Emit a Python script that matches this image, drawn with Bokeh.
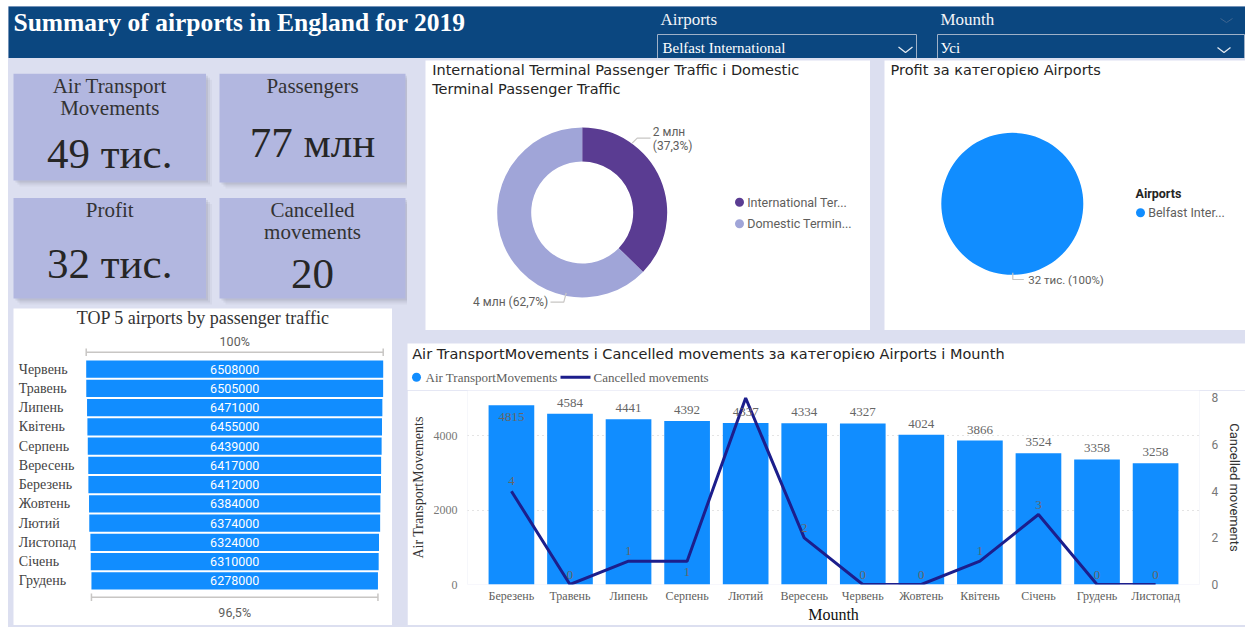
import math
from bokeh.plotting import figure
from bokeh.models import Range1d, FactorRange, LinearAxis, FixedTicker, Spacer, ColumnDataSource
from bokeh.layouts import row, column
from bokeh.core.properties import value
from bokeh.embed import file_html
from bokeh.resources import INLINE

# ---------------- data ----------------
dashboard_title = "Summary of airports in England for 2019"
filter_labels = ["Airports", "Mounth"]
filter_values = ["Belfast International", "Усі"]

months = ["Березень", "Травень", "Липень", "Серпень", "Лютий", "Вересень",
          "Червень", "Жовтень", "Квітень", "Січень", "Грудень", "Листопад"]
atm = [4815, 4584, 4441, 4392, 4337, 4334, 4327, 4024, 3866, 3524, 3358, 3258]
cancelled = [4, 0, 1, 1, 8, 2, 0, 0, 1, 3, 0, 0]

funnel_months = ["Червень", "Травень", "Липень", "Квітень", "Серпень", "Вересень",
                 "Березень", "Жовтень", "Лютий", "Листопад", "Січень", "Грудень"]
funnel_passengers = [6508000, 6505000, 6471000, 6455000, 6439000, 6417000,
                     6412000, 6384000, 6374000, 6324000, 6310000, 6278000]

terminal_names = ["International Ter...", "Domestic Termin..."]
terminal_values = [2310000, 3880000]

profit_airports = ["Belfast Inter..."]
profit_values = [32000]

# ---------------- style ----------------
SERIF = "Liberation Serif"
SANS = "Roboto"
TSANS = "DejaVu Sans"
HEADER_BG = "#0b4780"
LAV = "#dcdff0"
CARD = "#b2b7e0"
BLUE = "#118dff"
PURPLE = "#5a3c92"
LILAC = "#a0a5d8"
NAVY = "#1c1e8c"
TITLE_C = "#252423"
GRAY = "#605e5c"


def base(w, h, xr, yr, bg="white"):
    p = figure(width=w, height=h, x_range=xr, y_range=yr, output_backend="svg",
               toolbar_location=None, min_border=0, x_axis_location=None,
               y_axis_location=None, background_fill_color=bg, border_fill_color=bg,
               outline_line_color=None)
    p.grid.visible = False
    return p


def txt(p, x, y, s, size, color, font=SERIF, align="left", style="normal"):
    p.text(x=[x], y=[y], text=[s], text_font=value(font), text_font_size=f"{size}px",
           text_color=color, text_align=align, text_baseline="middle",
           text_font_style=style)


def pct_str(f):
    s = f"{f * 100:.1f}"
    if s.endswith(".0"):
        s = s[:-2]
    return s.replace(".", ",") + "%"


# ---------------- header (ref x 8-1245, y 6-58) ----------------
HW, HH = 1237, 52
hdr = base(HW, HH, Range1d(0, HW), Range1d(HH, 0), HEADER_BG)
txt(hdr, 5, 15.5, dashboard_title, 25.5, "white", style="bold")
box_l = [649, 929]
box_r = [908, 1236]
lab_x = [652, 932]
val_x = [654, 932]
for i in range(2):
    txt(hdr, lab_x[i], 12.5, filter_labels[i], 17, "#f2f4f8")
    txt(hdr, val_x[i], 41, filter_values[i], 15, "white")
hdr.quad(left=box_l, right=box_r, top=[28, 28], bottom=[54, 54], fill_color=None,
         line_color="#9fb1c8", line_width=1)
hdr.multi_line(xs=[[890, 897, 904], [1209, 1215.5, 1222]], ys=[[40.5, 46, 40.5], [41, 46, 41]],
               line_color="#e4e9f0", line_width=1.3)
hdr.line(x=[1212, 1218, 1224], y=[12, 16, 12], line_color="#3f6590", line_width=1)

# ---------------- KPI cards (ref x 8-407, y 58-308) ----------------
CW, CH = 399, 250
cards = base(CW, CH, Range1d(0, CW), Range1d(CH, 0), LAV)
card_l = [5, 211, 5, 211]
card_r = [197.5, 397, 197.5, 397]
card_t = [15.3, 15.3, 139.5, 139.5]
card_b = [122, 124, 240, 240]
for o, a in [(2, 0.10), (4, 0.08), (6, 0.05)]:
    cards.quad(left=[v + o for v in card_l], right=[v + o for v in card_r],
               top=[v + o for v in card_t], bottom=[v + o for v in card_b],
               fill_color="#4a4e66", fill_alpha=a, line_color=None)
cards.quad(left=card_l, right=card_r, top=card_t, bottom=card_b, fill_color=CARD,
           line_color=None)

kpi_titles = [["Air Transport", "Movements"], ["Passengers"], ["Profit"],
              ["Cancelled", "movements"]]
kpi_values = [f"{round(sum(atm) / 1000)} тис.",
              f"{round(sum(funnel_passengers) / 1e6)} млн",
              f"{round(sum(profit_values) / 1000)} тис.",
              f"{sum(cancelled)}"]
title_mid = [[27.7, 49.3], [27.7], [151], [151, 173.5]]
value_mid = [95, 83.5, 205, 215]
for i in range(4):
    cxx = (card_l[i] + card_r[i]) / 2
    for line, ym in zip(kpi_titles[i], title_mid[i]):
        txt(cards, cxx, ym, line, 21, "#333333", align="center")
    txt(cards, cxx, value_mid[i], kpi_values[i], 43, "#262626", align="center")

# ---------------- funnel (ref x 13-392, y 308-625) ----------------
FW, FH = 379, 317
FUN_MAX_PX = 297.0
fcx = 221.2
row0, pitch = 60.65, 19.25
k = FUN_MAX_PX / max(funnel_passengers)
xl = lambda px: (px - fcx) / k
yl = lambda py: (py - row0) / pitch
fun = base(FW, FH, Range1d(xl(0), xl(FW)), Range1d(yl(FH), yl(0)), "white")
fsrc = ColumnDataSource(dict(
    y=list(range(len(funnel_passengers))),
    left=[-v / 2 for v in funnel_passengers],
    right=[v / 2 for v in funnel_passengers],
    label=[str(v) for v in funnel_passengers],
    month=funnel_months))
fun.hbar(y="y", left="left", right="right", height=0.9, source=fsrc,
         fill_color=BLUE, line_color=None)
fun.text(x=0, y="y", text="label", source=fsrc, text_font=value(SANS),
         text_font_size="12.5px", text_color="white", text_align="center",
         text_baseline="middle")
fun.text(x=xl(5.3), y="y", text="month", source=fsrc, text_font=value(SERIF),
         text_font_size="14px", text_color="#444444", text_align="left",
         text_baseline="middle")
txt(fun, xl(189.7), yl(9.3), "TOP 5 airports by passenger traffic", 18, "#333333",
    align="center")
mx, mn = max(funnel_passengers), min(funnel_passengers)
by_top, by_bot = yl(43.7), yl(288.7)
tick = 3.7 / pitch
fun.multi_line(
    xs=[[-mx / 2, mx / 2], [-mx / 2, -mx / 2], [mx / 2, mx / 2],
        [-mn / 2, mn / 2], [-mn / 2, -mn / 2], [mn / 2, mn / 2]],
    ys=[[by_top, by_top], [by_top - tick, by_top + tick], [by_top - tick, by_top + tick],
        [by_bot, by_bot], [by_bot - tick, by_bot + tick], [by_bot - tick, by_bot + tick]],
    line_color="#c8c6c4", line_width=1.5)
txt(fun, 0, yl(32.7), pct_str(1.0), 12.5, GRAY, font=SANS, align="center")
txt(fun, 0, yl(303.7), pct_str(mn / mx), 12.5, GRAY, font=SANS, align="center")

# ---------------- donut (ref x 425-870, y 60-330) ----------------
DW, DH = 445, 270
dcx, dcy = 156.7, 152
donut = base(DW, DH, Range1d(-dcx, DW - dcx), Range1d(dcy - DH, dcy), "white")
DP = lambda lx, ly: (lx - dcx, dcy - ly)
tot = sum(terminal_values)
fr = [v / tot for v in terminal_values]
cum = [sum(fr[:i]) for i in range(len(fr) + 1)]
dsrc = ColumnDataSource(dict(
    start=[math.pi / 2 - 2 * math.pi * cum[i] for i in range(len(fr))],
    end=[math.pi / 2 - 2 * math.pi * cum[i + 1] for i in range(len(fr))],
    color=[PURPLE, LILAC]))
donut.annular_wedge(x=0, y=0, inner_radius=51, outer_radius=85, start_angle="start",
                    end_angle="end", direction="clock", fill_color="color",
                    line_color=None, source=dsrc)
dlab = [f"{round(v / 1e6)} млн" for v in terminal_values]
dpct = [f"({pct_str(f)})" for f in fr]
txt(donut, *DP(6.7, 9.3), "International Terminal Passenger Traffic і Domestic", 14.5,
    TITLE_C, font=TSANS)
txt(donut, *DP(6.7, 28.3), "Terminal Passenger Traffic", 14.5, TITLE_C, font=TSANS)
txt(donut, *DP(227.3, 71.7), dlab[0], 12, GRAY, font=SANS)
txt(donut, *DP(227.3, 85.7), dpct[0], 12, GRAY, font=SANS)
txt(donut, *DP(122.7, 241.7), f"{dlab[1]} {dpct[1]}", 12, GRAY, font=SANS, align="right")
lead1 = [DP(206.7, 82.7), DP(211.7, 77.7), DP(225, 77.7)]
lead2 = [DP(125, 241.7), DP(138.3, 241.7), DP(140.7, 232.3)]
donut.multi_line(xs=[[p[0] for p in lead1], [p[0] for p in lead2]],
                 ys=[[p[1] for p in lead1], [p[1] for p in lead2]],
                 line_color="#c8c6c4", line_width=1.2)
for i, nm in enumerate(terminal_names):
    ly = 141.7 + 21.6 * i
    donut.scatter(x=[DP(314, ly)[0]], y=[DP(314, ly)[1]], size=9,
                  fill_color=dsrc.data["color"][i], line_color=None)
    txt(donut, *DP(321.7, ly), nm, 12.5, GRAY, font=SANS)

# ---------------- pie (ref x 884-1245, y 60-330) ----------------
PW, PH = 361, 270
pcx, pcy = 127.8, 143.3
pie = base(PW, PH, Range1d(-pcx, PW - pcx), Range1d(pcy - PH, pcy), "white")
PP = lambda lx, ly: (lx - pcx, pcy - ly)
ptot = sum(profit_values)
pfr = [v / ptot for v in profit_values]
pcum = [sum(pfr[:i]) for i in range(len(pfr) + 1)]
span = lambda a: min(a, 2 * math.pi - 1e-4)
pie.wedge(x=0, y=0, radius=71,
          start_angle=[math.pi / 2 - span(2 * math.pi * pcum[i]) for i in range(len(pfr))],
          end_angle=[math.pi / 2 - span(2 * math.pi * pcum[i + 1]) for i in range(len(pfr))],
          direction="clock", fill_color=BLUE, line_color=None)
txt(pie, *PP(6, 9.3), "Profit за категорією Airports", 14.5, TITLE_C, font=TSANS)
txt(pie, *PP(143.7, 219), f"{round(profit_values[0] / 1000)} тис. ({pct_str(pfr[0])})", 11.5,
    GRAY, font=SANS)
pl = [PP(128.3, 212.3), PP(128.3, 219), PP(139.3, 219)]
pie.line(x=[p[0] for p in pl], y=[p[1] for p in pl], line_color="#c8c6c4", line_width=1.2)
txt(pie, *PP(251, 133.3), "Airports", 12.5, TITLE_C, font=SANS, style="bold")
pie.scatter(x=[PP(256, 152.3)[0]], y=[PP(256, 152.3)[1]], size=9, fill_color=BLUE,
            line_color=None)
txt(pie, *PP(263.7, 152.3), profit_airports[0], 12.5, GRAY, font=SANS)

# ---------------- combo chart (ref x 407-1245, y 343-625) ----------------
CMW = 838
HEAD_H = 47
chead = base(CMW, HEAD_H, Range1d(0, CMW), Range1d(HEAD_H, 0), "white")
txt(chead, 4.7, 10.3,
    "Air TransportMovements і Cancelled movements за категорією Airports і Mounth",
    14.5, TITLE_C, font=TSANS)
chead.scatter(x=[9], y=[33.7], size=9, fill_color=BLUE, line_color=None)
txt(chead, 18, 33.7, "Air TransportMovements", 13, GRAY)
chead.line(x=[153, 183], y=[33.7, 33.7], line_color=NAVY, line_width=3)
txt(chead, 186, 33.7, "Cancelled movements", 13, GRAY)

CHART_H = 235
FRAME_H = 197
L_END, R_END = 5211, 8.32
chart = figure(width=CMW, height=CHART_H, output_backend="svg", toolbar_location=None,
               x_range=FactorRange(*months, range_padding=0.25,
                                   range_padding_units="absolute"),
               y_range=Range1d(0, L_END), min_border_left=60, min_border_right=44,
               min_border_top=0, min_border_bottom=CHART_H - FRAME_H,
               outline_line_color=None,
               background_fill_color="white", border_fill_color="white")
chart.extra_y_ranges = {"right": Range1d(0, R_END)}
chart.xgrid.visible = False
chart.ygrid.ticker = FixedTicker(ticks=[0, 2000, 4000])
chart.ygrid.grid_line_color = "#c8c8c8"
chart.ygrid.grid_line_dash = "1 4"

chart.vbar(x=months, top=atm, width=0.78, fill_color=BLUE, line_color=None)
chart.line(x=months, y=cancelled, y_range_name="right", line_color=NAVY, line_width=3)

px_left = FRAME_H / L_END
bar_yoff = [12 if (v * px_left + 18) > FRAME_H else -11 for v in atm]
chart.text(x=months, y=atm, text=[str(v) for v in atm], y_offset=bar_yoff,
           text_font=value(SERIF), text_font_size="13px", text_color="#666666",
           text_align="center", text_baseline="middle")
px_right = FRAME_H / R_END
lx, ly, lt, loff = [], [], [], []
for i, (m, c) in enumerate(zip(months, cancelled)):
    below = i > 0 and c == cancelled[i - 1] and c > 0
    if not below and (c * px_right + 16) > FRAME_H:
        continue
    lx.append(m)
    ly.append(c)
    lt.append(str(c))
    loff.append(11 if below else -10)
chart.text(x=lx, y=ly, text=lt, y_offset=loff, y_range_name="right",
           text_font=value(SERIF), text_font_size="13px", text_color="#666666",
           text_align="center", text_baseline="middle")

ya = chart.yaxis[0]
ya.ticker = FixedTicker(ticks=[0, 2000, 4000])
ya.axis_label = "Air TransportMovements"
ryax = LinearAxis(y_range_name="right", ticker=FixedTicker(ticks=[0, 2, 4, 6, 8]),
                  axis_label="Cancelled movements")
chart.add_layout(ryax, "right")
xa = chart.xaxis[0]
xa.axis_label = "Mounth"
for ax in [ya, ryax, xa]:
    ax.axis_line_color = None
    ax.major_tick_line_color = None
    ax.minor_tick_line_color = None
    ax.major_tick_out = 0
    ax.major_tick_in = 0
    ax.minor_tick_out = 0
    ax.minor_tick_in = 0
    ax.axis_label_text_font_style = "normal"
ya.major_label_text_font = SERIF
ya.major_label_text_font_size = "12px"
ya.major_label_text_color = "#777777"
ya.major_label_standoff = 10
ya.axis_label_text_font = SERIF
ya.axis_label_text_font_size = "14px"
ya.axis_label_text_color = "#333333"
ya.axis_label_standoff = 5
ryax.major_label_text_font = SANS
ryax.major_label_text_font_size = "12px"
ryax.major_label_text_color = "#777777"
ryax.major_label_standoff = 12
ryax.axis_label_text_font = SANS
ryax.axis_label_text_font_size = "13px"
ryax.axis_label_text_color = "#333333"
ryax.axis_label_standoff = 6
xa.major_label_text_font = SERIF
xa.major_label_text_font_size = "12px"
xa.major_label_text_color = GRAY
xa.major_label_standoff = 4
xa.axis_label_text_font = SERIF
xa.axis_label_text_font_size = "16px"
xa.axis_label_text_color = "#111111"
xa.axis_label_standoff = 0

# ---------------- layout ----------------
left = column(cards,
              row(Spacer(width=5, height=FH), fun, Spacer(width=15, height=FH)),
              Spacer(width=CW, height=2))
right_top = row(Spacer(width=18, height=DH), donut, Spacer(width=14, height=DH), pie)
right = column(Spacer(width=CMW, height=2), right_top, Spacer(width=CMW, height=13),
               row(chead), row(chart), Spacer(width=CMW, height=2))
body = row(left, right)
main = column(hdr, body, styles={"background-color": LAV})
root = column(Spacer(width=HW + 8, height=6), row(Spacer(width=8, height=621), main))

open("out.html", "w").write(file_html(root, INLINE))
